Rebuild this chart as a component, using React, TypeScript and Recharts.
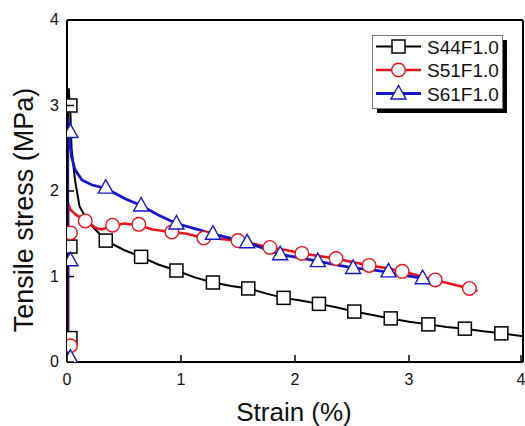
import { Legend, Line, LineChart, ReferenceLine, XAxis, YAxis } from "recharts"

// S44F1.0 (black, squares)
const s44X = [0.01, 0.01, 0.01, 0.015, 0.03, 0.04, 0.07, 0.11, 0.19, 0.27, 0.34, 0.5, 0.65, 0.8, 0.96, 1.12, 1.28, 1.44, 1.59, 1.75, 1.9, 2.05, 2.21, 2.36, 2.52, 2.68, 2.84, 3.0, 3.17, 3.33, 3.49, 3.65, 3.81, 4.0]
const s44Y = [0, 1.35, 3.0, 3.2, 2.9, 2.5, 2.13, 1.82, 1.63, 1.52, 1.42, 1.31, 1.23, 1.14, 1.07, 0.99, 0.93, 0.89, 0.86, 0.8, 0.75, 0.72, 0.68, 0.64, 0.59, 0.55, 0.51, 0.47, 0.44, 0.41, 0.39, 0.36, 0.335, 0.3]
const s44MarkX = [0.03, 0.03, 0.03, 0.34, 0.65, 0.96, 1.28, 1.59, 1.9, 2.21, 2.52, 2.84, 3.17, 3.49, 3.81]
const s44MarkY = [0.28, 1.35, 3.0, 1.42, 1.23, 1.07, 0.93, 0.86, 0.75, 0.68, 0.59, 0.51, 0.44, 0.39, 0.335]

// S51F1.0 (red, circles)
const s51X = [0.01, 0.01, 0.03, 0.08, 0.16, 0.25, 0.3, 0.4, 0.5, 0.63, 0.75, 0.92, 1.05, 1.2, 1.35, 1.5, 1.64, 1.78, 1.92, 2.06, 2.21, 2.36, 2.5, 2.65, 2.8, 2.94, 3.09, 3.23, 3.38, 3.53, 3.6]
const s51Y = [0, 1.85, 1.78, 1.72, 1.66, 1.57, 1.55, 1.59, 1.62, 1.6, 1.55, 1.52, 1.5, 1.45, 1.44, 1.42, 1.38, 1.34, 1.31, 1.27, 1.24, 1.21, 1.17, 1.13, 1.1, 1.06, 1.01, 0.96, 0.91, 0.86, 0.83]
const s51MarkX = [0.03, 0.03, 0.16, 0.4, 0.63, 0.92, 1.2, 1.5, 1.78, 2.06, 2.36, 2.65, 2.94, 3.23, 3.53]
const s51MarkY = [0.19, 1.51, 1.65, 1.6, 1.61, 1.52, 1.45, 1.42, 1.34, 1.27, 1.21, 1.13, 1.06, 0.96, 0.86]

// S61F1.0 (blue, triangles)
const s61X = [0.005, 0.005, 0.01, 0.02, 0.04, 0.07, 0.13, 0.22, 0.34, 0.51, 0.65, 0.8, 0.96, 1.12, 1.28, 1.43, 1.58, 1.72, 1.87, 2.03, 2.2, 2.35, 2.51, 2.66, 2.82, 2.97, 3.12, 3.18]
const s61Y = [0, 2.7, 2.85, 2.6, 2.4, 2.25, 2.13, 2.07, 2.03, 1.91, 1.83, 1.72, 1.62, 1.56, 1.5, 1.45, 1.4, 1.33, 1.26, 1.22, 1.18, 1.14, 1.1, 1.08, 1.05, 1.01, 0.98, 0.95]
const s61MarkX = [0.03, 0.03, 0.03, 0.34, 0.65, 0.96, 1.28, 1.58, 1.87, 2.2, 2.51, 2.82, 3.12]
const s61MarkY = [0.05, 1.19, 2.69, 2.04, 1.83, 1.62, 1.5, 1.4, 1.26, 1.18, 1.1, 1.06, 0.98]

const xTicks = [0, 1, 2, 3, 4]
const yTicks = [0, 1, 2, 3, 4]

const BLACK = "#000000"
const RED = "#e8141c"
const BLUE = "#1616cc"
const FONT = "'Liberation Sans', Arial, sans-serif"

const toPoints = (xs: number[], ys: number[]) => xs.map((x, i) => ({ x, y: ys[i] }))

const seriesList = [
  { name: "S44F1.0", color: BLACK, width: 2, shape: "square", curve: toPoints(s44X, s44Y), marks: toPoints(s44MarkX, s44MarkY) },
  { name: "S51F1.0", color: RED, width: 2.6, shape: "circle", curve: toPoints(s51X, s51Y), marks: toPoints(s51MarkX, s51MarkY) },
  { name: "S61F1.0", color: BLUE, width: 2.8, shape: "triangle", curve: toPoints(s61X, s61Y), marks: toPoints(s61MarkX, s61MarkY) },
]

function Marker({ shape, cx, cy, color }: { shape: string; cx: number; cy: number; color: string }) {
  if (shape === "square") {
    return <rect x={cx - 6.5} y={cy - 6.5} width={13} height={13} fill="#fff" stroke={color} strokeWidth={1.5} />
  }
  if (shape === "circle") {
    return <circle cx={cx} cy={cy} r={6.8} fill="#fff" stroke={color} strokeWidth={1.4} />
  }
  return (
    <polygon
      points={`${cx},${cy - 8} ${cx - 7.5},${cy + 5.5} ${cx + 7.5},${cy + 5.5}`}
      fill="#fff"
      stroke={color}
      strokeWidth={1.4}
    />
  )
}

const XTick = (props: any) => {
  const { x, y, payload } = props
  return (
    <g>
      <line x1={x} y1={y} x2={x} y2={y - 7} stroke="#000" strokeWidth={1.5} />
      <text x={x} y={y + 23} textAnchor="middle" fontSize={16} fontFamily={FONT} fill="#111">
        {payload.value}
      </text>
    </g>
  )
}

const YTick = (props: any) => {
  const { x, y, payload } = props
  return (
    <g>
      <line x1={x} y1={y} x2={x + 7} y2={y} stroke="#000" strokeWidth={1.5} />
      <text x={x - 8} y={y + 5} textAnchor="end" fontSize={16} fontFamily={FONT} fill="#111">
        {payload.value}
      </text>
    </g>
  )
}

function LegendBox() {
  const rows = [11.5, 35, 58.5]
  return (
    <svg width={140} height={82} style={{ display: "block" }}>
      <rect x={5} y={5} width={130} height={73} fill="#000" />
      <rect x={0.5} y={0.5} width={130} height={73} fill="#fff" stroke="#777" strokeWidth={1} />
      {seriesList.map((s, i) => (
        <g key={s.name}>
          <line x1={4} y1={rows[i]} x2={49} y2={rows[i]} stroke={s.color} strokeWidth={s.width} />
          <Marker shape={s.shape} cx={26.5} cy={rows[i]} color={s.color} />
          <text x={55} y={rows[i] + 7} fontSize={19} fontFamily={FONT} fill="#111">
            {s.name}
          </text>
        </g>
      ))}
    </svg>
  )
}

export default function App() {
  return (
    <div style={{ position: "absolute", left: 0, top: 0 }}>
      <LineChart width={525} height={426} margin={{ top: 20, right: 2, left: 0, bottom: 0 }}>
        <XAxis
          type="number"
          dataKey="x"
          domain={[0, 4]}
          ticks={xTicks}
          allowDataOverflow
          height={64}
          tickSize={0}
          tickMargin={0}
          tickLine={false}
          tick={<XTick />}
          axisLine={{ stroke: "#000", strokeWidth: 2 }}
          label={{
            content: () => (
              <text x={294} y={421} textAnchor="middle" fontSize={26} fontFamily={FONT} fill="#111">
                Strain (%)
              </text>
            ),
          }}
        />
        <YAxis
          type="number"
          domain={[0, 4]}
          ticks={yTicks}
          allowDataOverflow
          width={67}
          tickSize={0}
          tickMargin={0}
          tickLine={false}
          tick={<YTick />}
          axisLine={{ stroke: "#000", strokeWidth: 2 }}
          label={{
            content: () => (
              <text
                x={33}
                y={210}
                transform="rotate(-90, 33, 210)"
                textAnchor="middle"
                fontSize={27}
                fontFamily={FONT}
                fill="#111"
              >
                Tensile stress (MPa)
              </text>
            ),
          }}
        />
        <ReferenceLine y={4} stroke="#000" strokeWidth={2} />
        <ReferenceLine x={4} stroke="#000" strokeWidth={2} />
        <Legend
          layout="horizontal"
          verticalAlign="middle"
          align="center"
          wrapperStyle={{ position: "absolute", left: 372, top: 35, width: 140, height: 82 }}
          content={() => <LegendBox />}
        />
        {seriesList.map((s) => (
          <Line
            key={s.name + "-curve"}
            data={s.curve}
            dataKey="y"
            name={s.name}
            type="linear"
            stroke={s.color}
            strokeWidth={s.width}
            dot={false}
            activeDot={false}
            isAnimationActive={false}
          />
        ))}
        {seriesList.map((s) => (
          <Line
            key={s.name + "-marks"}
            data={s.marks}
            dataKey="y"
            name={s.name + " markers"}
            stroke="none"
            legendType="none"
            dot={(p: any) => <Marker key={p.index} shape={s.shape} cx={p.cx} cy={p.cy} color={s.color} />}
            activeDot={false}
            isAnimationActive={false}
          />
        ))}
      </LineChart>
    </div>
  )
}
